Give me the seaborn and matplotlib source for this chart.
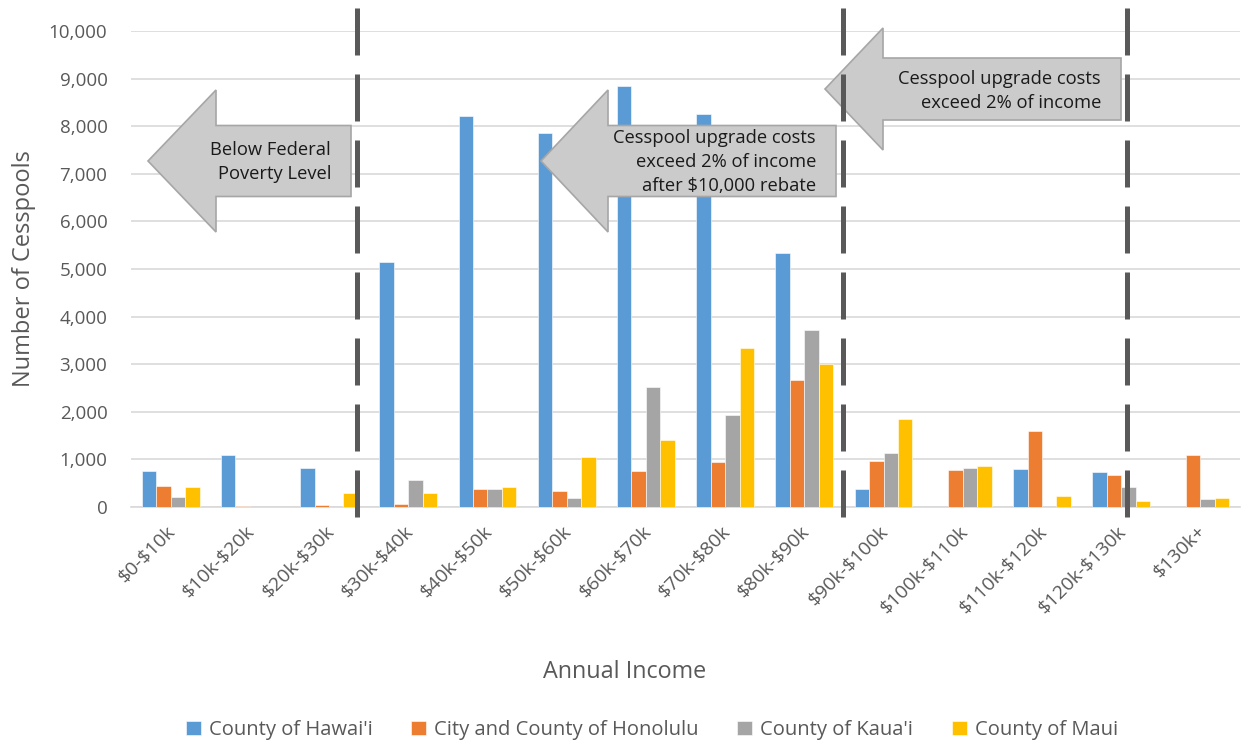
import pandas as pd
import seaborn as sns
import matplotlib.pyplot as plt
from matplotlib.patches import Polygon
from matplotlib.ticker import FuncFormatter
from matplotlib.transforms import ScaledTranslation

income = ['$0-$10k', '$10k-$20k', '$20k-$30k', '$30k-$40k', '$40k-$50k',
          '$50k-$60k', '$60k-$70k', '$70k-$80k', '$80k-$90k', '$90k-$100k',
          '$100k-$110k', '$110k-$120k', '$120k-$130k', '$130k+']
hawaii = [755, 1085, 825, 5150, 8215, 7860, 8845, 8255, 5340, 385, 0, 805, 740, 0]
honolulu = [440, 30, 40, 55, 370, 330, 765, 950, 2675, 975, 785, 1600, 665, 1085]
kauai = [205, 0, 0, 575, 380, 190, 2520, 1925, 3710, 1135, 815, 0, 415, 175]
maui = [415, 0, 295, 290, 425, 1045, 1410, 3340, 2995, 1850, 855, 230, 125, 190]
counties = ["County of Hawai'i", 'City and County of Honolulu', "County of Kaua'i", 'County of Maui']

# dashed separators sit between income groups (category units)
separators = [2.35, 8.49, 12.07]

colors = ['#5B9BD5', '#ED7D31', '#A5A5A5', '#FFC000']
grey = '#595959'


def arrow(fig, ax, tip_x, tip_y, head_half, body_half, base_x, right_x, W=1244, H=744):
    pts = [(tip_x, tip_y), (base_x, tip_y - head_half), (base_x, tip_y - body_half),
           (right_x, tip_y - body_half), (right_x, tip_y + body_half),
           (base_x, tip_y + body_half), (base_x, tip_y + head_half)]
    pts = [(x / W, 1 - y / H) for x, y in pts]
    p = ax.add_patch(Polygon(pts, closed=True, transform=fig.transFigure,
                             facecolor='#cbcbcb', edgecolor='#a6a6a6', lw=1.2, zorder=5))
    p.set_clip_on(False)


def main():
    df = pd.DataFrame({'income': income * 4,
                       'county': sum([[c] * len(income) for c in counties], []),
                       'count': hawaii + honolulu + kauai + maui})

    sns.set_style('white')
    plt.rcParams['font.family'] = ['Open Sans', 'DejaVu Sans']
    plt.rcParams['text.parse_math'] = False

    fig = plt.figure(figsize=(12.44, 7.44), dpi=100)
    ax = fig.add_axes([131 / 1244, 1 - 507 / 744, 1109 / 1244, 476 / 744])

    sns.barplot(df, x='income', y='count', hue='county', palette=colors, saturation=1,
                width=0.73, edgecolor='white', linewidth=0.4, ax=ax, zorder=3)

    ax.set_ylim(0, 10000)
    ax.set_xlim(-0.5, len(income) - 0.5)
    ax.set_yticks(range(0, 10001, 1000))
    ax.yaxis.set_major_formatter(FuncFormatter(lambda v, p: f'{int(v):,}'))
    ax.grid(axis='y', color='#d9d9d9', lw=1.2, zorder=0)
    ax.set_axisbelow(True)
    sns.despine(ax=ax, left=True)
    ax.spines['bottom'].set_color('#d9d9d9')
    ax.spines['bottom'].set_linewidth(1.2)
    ax.tick_params(length=0, colors=grey)
    ax.tick_params(axis='y', labelsize=13.5, pad=17)
    ax.set_xticks(range(len(income)))
    ax.set_xticklabels(income, rotation=45, ha='right', rotation_mode='anchor',
                       fontsize=14, color=grey)
    ax.tick_params(axis='x', pad=11)
    shift = ScaledTranslation(-4 / 100, 0, fig.dpi_scale_trans)
    for lab in ax.get_xticklabels():
        lab.set_transform(lab.get_transform() + shift)

    ax.set_xlabel('Annual Income', fontsize=16.8, color=grey)
    ax.xaxis.set_label_coords(0.445, -0.321)
    ax.set_ylabel('Number of Cesspools', fontsize=17, color=grey)
    ax.yaxis.set_label_coords(-0.086, 0.5)

    leg = ax.legend(loc='center', bbox_to_anchor=(652 / 1244, 1 - 730 / 744),
                    bbox_transform=fig.transFigure, ncol=4, frameon=False,
                    fontsize=14.5, handlelength=0.75, handleheight=0.75,
                    handletextpad=0.4, columnspacing=1.9)
    for t in leg.get_texts():
        t.set_color(grey)

    # callout arrows (figure pixel geometry), under the dashed lines
    arrow(fig, ax, 148, 161, 71, 35.5, 216, 351)
    arrow(fig, ax, 541, 161, 71, 35.5, 608, 836)
    arrow(fig, ax, 825, 89, 61, 31, 883, 1121)
    txt = dict(transform=fig.transFigure, ha='right', va='center', fontsize=13.2,
               color='#1a1a1a', linespacing=1.45, zorder=6, clip_on=False)
    ax.text(331 / 1244, 1 - 162 / 744, 'Below Federal\nPoverty Level', **txt)
    ax.text(816 / 1244, 1 - 162 / 744,
            'Cesspool upgrade costs\nexceed 2% of income\nafter $10,000 rebate', **txt)
    ax.text(1101 / 1244, 1 - 91 / 744, 'Cesspool upgrade costs\nexceed 2% of income', **txt)

    lw = 3.6
    for x in separators:
        ax.plot([x, x], [10480, -260], color=grey, lw=lw, clip_on=False, zorder=7,
                solid_capstyle='butt', dash_capstyle='butt',
                linestyle=(0, (47 * 0.72 / lw, 19 * 0.72 / lw)))

    fig.savefig('out.png', dpi=100)


if __name__ == '__main__':
    main()
